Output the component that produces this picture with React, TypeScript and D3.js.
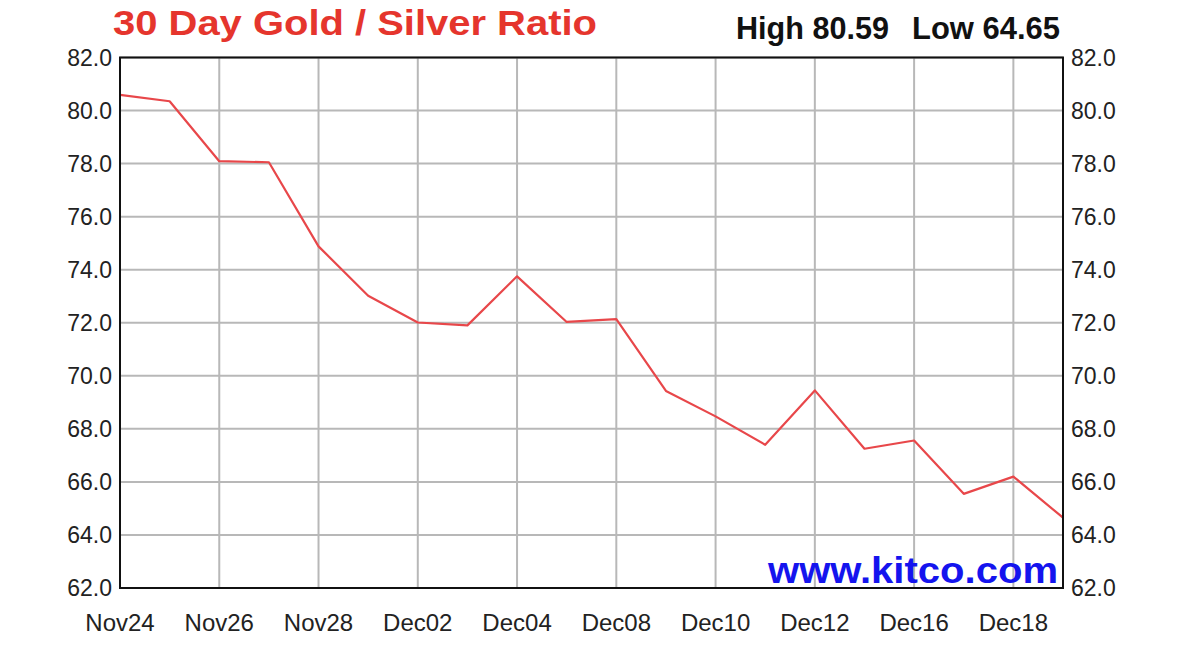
import React, { useEffect, useRef } from "react";
import * as d3 from "d3";

const dates = [
  "Nov24", "Nov25", "Nov26", "Nov27", "Nov28", "Dec01", "Dec02", "Dec03", "Dec04", "Dec05",
  "Dec08", "Dec09", "Dec10", "Dec11", "Dec12", "Dec15", "Dec16", "Dec17", "Dec18", "Dec19",
];
const ratio = [
  80.59, 80.35, 78.09, 78.05, 74.88, 73.02, 72.01, 71.9, 73.75, 72.03,
  72.14, 69.43, 68.47, 67.4, 69.45, 67.25, 67.56, 65.55, 66.2, 64.65,
];
const xTickLabels = ["Nov24", "Nov26", "Nov28", "Dec02", "Dec04", "Dec08", "Dec10", "Dec12", "Dec16", "Dec18"];
const yTicks = [62, 64, 66, 68, 70, 72, 74, 76, 78, 80, 82];
const title = "30 Day Gold / Silver Ratio";
const highText = "High 80.59";
const lowText = "Low 64.65";
const watermark = "www.kitco.com";

const W = 1179;
const H = 651;
const L = 120;
const R = 1063;
const T = 57.5;
const B = 588;
const FONT = "'Liberation Sans', Arial, sans-serif";

export default function App() {
  const ref = useRef<SVGSVGElement>(null);

  useEffect(() => {
    const svg = d3.select(ref.current);
    svg.selectAll("*").remove();

    const x = d3.scalePoint<string>().domain(dates).range([L, R]);
    const y = d3.scaleLinear().domain([62, 82]).range([B, T]);

    svg.append("rect").attr("width", W).attr("height", H).attr("fill", "#fff");

    // grid
    const g = svg.append("g");
    g.selectAll("line.h")
      .data(yTicks)
      .join("line")
      .attr("x1", L).attr("x2", R)
      .attr("y1", (d) => y(d)).attr("y2", (d) => y(d))
      .attr("stroke", "#b8b8b8").attr("stroke-width", 2);
    g.selectAll("line.v")
      .data(xTickLabels)
      .join("line")
      .attr("x1", (d) => x(d)!).attr("x2", (d) => x(d)!)
      .attr("y1", T).attr("y2", B)
      .attr("stroke", "#b8b8b8").attr("stroke-width", 2);

    // watermark
    svg.append("text")
      .attr("x", 768).attr("y", 583)
      .attr("font-family", FONT).attr("font-weight", "bold").attr("font-size", 36)
      .attr("fill", "#1414ee")
      .attr("textLength", 290).attr("lengthAdjust", "spacingAndGlyphs")
      .text(watermark);

    // line
    const line = d3.line<number>()
      .x((_, i) => x(dates[i])!)
      .y((d) => y(d));
    svg.append("path")
      .datum(ratio)
      .attr("d", line)
      .attr("fill", "none")
      .attr("stroke", "#e8474a")
      .attr("stroke-width", 2.2)
      .attr("stroke-linejoin", "round");

    // frame
    svg.append("rect")
      .attr("x", L).attr("y", T).attr("width", R - L).attr("height", B - T)
      .attr("fill", "none").attr("stroke", "#111").attr("stroke-width", 2);

    // y labels left & right
    const fmt = d3.format(".1f");
    svg.selectAll("text.yl")
      .data(yTicks)
      .join("text")
      .attr("x", 112).attr("y", (d) => y(d))
      .attr("dy", "0.36em")
      .attr("text-anchor", "end")
      .attr("font-family", FONT).attr("font-size", 23).attr("fill", "#222")
      .text((d) => fmt(d));
    svg.selectAll("text.yr")
      .data(yTicks)
      .join("text")
      .attr("x", 1071).attr("y", (d) => y(d))
      .attr("dy", "0.36em")
      .attr("text-anchor", "start")
      .attr("font-family", FONT).attr("font-size", 23).attr("fill", "#222")
      .text((d) => fmt(d));

    // x labels
    svg.selectAll("text.xl")
      .data(xTickLabels)
      .join("text")
      .attr("x", (d) => x(d)!).attr("y", 631)
      .attr("text-anchor", "middle")
      .attr("font-family", FONT).attr("font-size", 24).attr("fill", "#222")
      .text((d) => d);

    // title
    svg.append("text")
      .attr("x", 113).attr("y", 35)
      .attr("font-family", FONT).attr("font-weight", "bold").attr("font-size", 35)
      .attr("fill", "#e5352d")
      .attr("textLength", 484).attr("lengthAdjust", "spacingAndGlyphs")
      .text(title);

    svg.append("text")
      .attr("x", 736).attr("y", 39)
      .attr("font-family", FONT).attr("font-weight", "bold").attr("font-size", 31)
      .attr("fill", "#111")
      .attr("textLength", 153).attr("lengthAdjust", "spacingAndGlyphs")
      .text(highText);
    svg.append("text")
      .attr("x", 1060).attr("y", 39)
      .attr("text-anchor", "end")
      .attr("font-family", FONT).attr("font-weight", "bold").attr("font-size", 31)
      .attr("fill", "#111")
      .attr("textLength", 148).attr("lengthAdjust", "spacingAndGlyphs")
      .text(lowText);
  }, []);

  return (
    <svg
      ref={ref}
      width={W}
      height={H}
      style={{ position: "absolute", left: 0, top: 0, display: "block" }}
    />
  );
}
